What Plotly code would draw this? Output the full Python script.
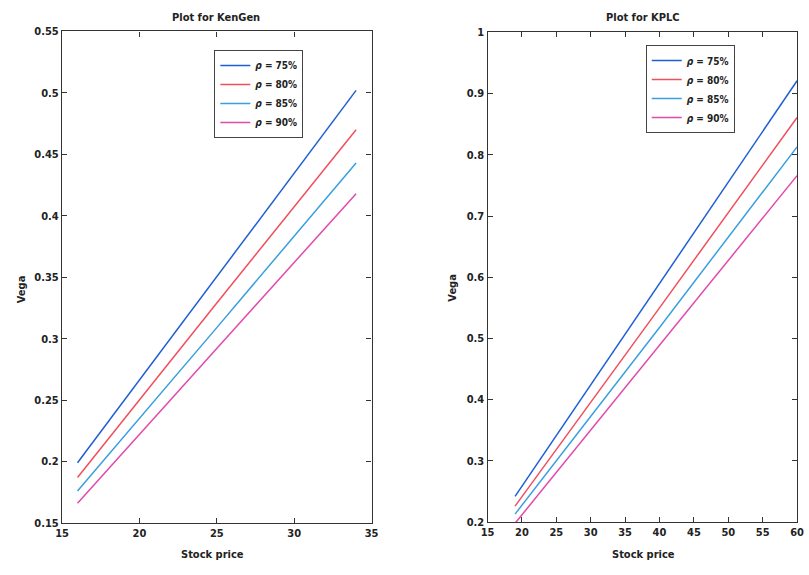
import plotly.graph_objects as go

# ---- data ----
labels = ["75%", "80%", "85%", "90%"]
colors = ["#1f5fd4", "#f0505e", "#3a9fe0", "#e04aaa"]

kengen_price = [16, 25, 34]
kengen_vega = {
    "75%": [0.199, 0.350, 0.502],
    "80%": [0.187, 0.329, 0.470],
    "85%": [0.176, 0.309, 0.443],
    "90%": [0.166, 0.292, 0.418],
}

kplc_price = [19, 40, 60]
kplc_vega = {
    "75%": [0.242, 0.590, 0.921],
    "80%": [0.226, 0.550, 0.861],
    "85%": [0.213, 0.518, 0.813],
    "90%": [0.198, 0.488, 0.766],
}

W, H = 809, 575
FONT = "DejaVu Sans Condensed, Liberation Sans Narrow, Arial Narrow, sans-serif"

fig = go.Figure()
for lab, col in zip(labels, colors):
    fig.add_trace(go.Scatter(x=kengen_price, y=kengen_vega[lab], mode="lines",
                             line=dict(color=col, width=1.5),
                             name="<i>ρ</i> = " + lab, xaxis="x", yaxis="y",
                             legend="legend"))
for lab, col in zip(labels, colors):
    fig.add_trace(go.Scatter(x=kplc_price, y=kplc_vega[lab], mode="lines",
                             line=dict(color=col, width=1.5),
                             name="<i>ρ</i> = " + lab, xaxis="x2", yaxis="y2",
                             legend="legend2"))

def px(x):
    return x / W

def py(y):
    return 1 - y / H

tickfont = dict(family=FONT, size=11, color="#222", weight="bold")
axis_common = dict(showgrid=False, zeroline=False, showline=True, linecolor="#333",
                   linewidth=1.2, mirror="ticks", ticks="inside", ticklen=5,
                   tickcolor="#333", tickwidth=1, tickfont=tickfont)

legend_common = dict(xanchor="left", yanchor="top", bgcolor="white",
                     bordercolor="#444", borderwidth=1,
                     font=dict(family=FONT, size=10, color="#222", weight="bold"),
                     itemwidth=30, tracegroupgap=0)

fig.update_layout(
    width=W, height=H,
    margin=dict(l=0, r=0, t=0, b=0),
    paper_bgcolor="white", plot_bgcolor="white",
    font=dict(family=FONT, color="#222"),
    xaxis=dict(domain=[px(56), px(371)], range=[15, 35], dtick=5, tick0=15,
               anchor="y", **axis_common),
    yaxis=dict(domain=[py(529), py(26)], range=[0.15, 0.55], dtick=0.05, tick0=0.15,
               anchor="x", **axis_common),
    xaxis2=dict(domain=[px(489), px(804)], range=[15, 60], dtick=5, tick0=15,
                anchor="y2", **axis_common),
    yaxis2=dict(domain=[py(528), py(27)], range=[0.2, 1.0], dtick=0.1, tick0=0.2,
                anchor="x2", **axis_common),
    legend=dict(x=px(211), y=py(45), **legend_common),
    legend2=dict(x=px(650), y=py(40), **legend_common),
    showlegend=True,
)

ann_font = dict(family=FONT, size=11, color="#222", weight="bold")
def ann(text, x, y, angle=0):
    return dict(text=text, x=px(x), y=py(y), xref="paper", yref="paper",
                xanchor="center", yanchor="middle", showarrow=False,
                textangle=angle, font=ann_font)

annotations = [
    ann("Plot for KenGen", 213, 12),
    ann("Plot for KPLC", 647, 12),
    ann("Stock price", 209, 561),
    ann("Stock price", 648, 561),
    ann("Vega", 15, 290, -90),
    ann("Vega", 453, 288, -90),
]
fig.update_layout(annotations=annotations)

fig.write_html("out.html")
